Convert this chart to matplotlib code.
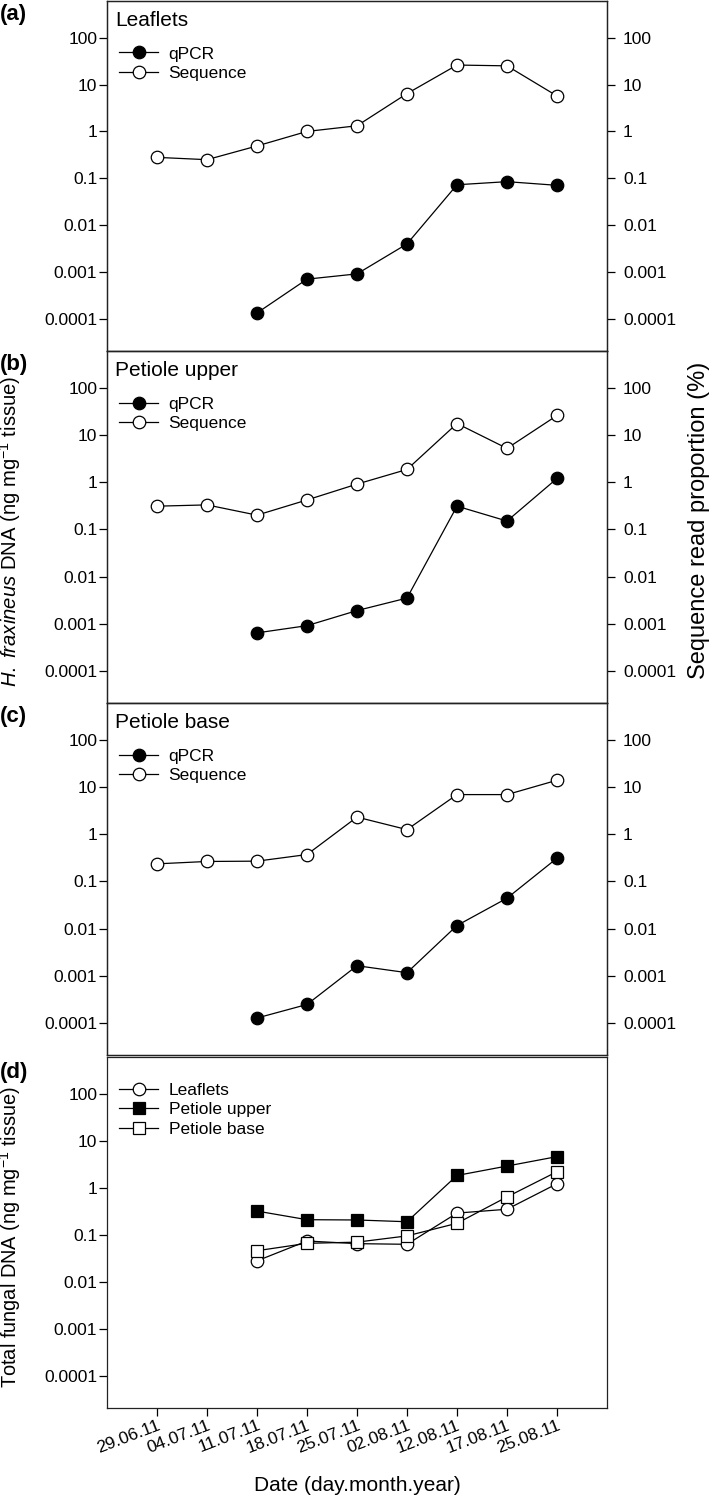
import numpy as np
import matplotlib
matplotlib.use("Agg")
import matplotlib.pyplot as plt
from matplotlib.ticker import FixedLocator, FixedFormatter, NullLocator

plt.rcParams['font.family'] = ['Liberation Sans', 'DejaVu Sans']
plt.rcParams['mathtext.fontset'] = 'custom'
plt.rcParams['mathtext.rm'] = 'Liberation Sans'
plt.rcParams['mathtext.it'] = 'Liberation Sans:italic'

dates = ["29.06.11", "04.07.11", "11.07.11", "18.07.11", "25.07.11",
         "02.08.11", "12.08.11", "17.08.11", "25.08.11"]

# panel (a) leaflets
leaf_seq = [0.28, 0.25, 0.49, 1.0, 1.32, 6.4, 26, 25, 5.7]
leaf_qpcr = [np.nan, np.nan, 1.35e-4, 7.1e-4, 9.2e-4, 4.0e-3, 0.073, 0.085, 0.071]
# panel (b) petiole upper
pu_seq = [0.31, 0.33, 0.20, 0.42, 0.91, 1.86, 17.5, 5.2, 25.9]
pu_qpcr = [np.nan, np.nan, 6.4e-4, 9.1e-4, 1.9e-3, 3.5e-3, 0.31, 0.15, 1.2]
# panel (c) petiole base
pb_seq = [0.235, 0.264, 0.268, 0.37, 2.3, 1.25, 6.9, 6.9, 13.9]
pb_qpcr = [np.nan, np.nan, 1.27e-4, 2.46e-4, 1.63e-3, 1.16e-3, 0.0116, 0.044, 0.31]
# panel (d) total fungal DNA
tot_leaf = [np.nan, np.nan, 0.028, 0.074, 0.065, 0.063, 0.29, 0.35, 1.22]
tot_pu = [np.nan, np.nan, 0.32, 0.21, 0.207, 0.19, 1.83, 2.9, 4.6]
tot_pb = [np.nan, np.nan, 0.046, 0.066, 0.07, 0.095, 0.176, 0.64, 2.2]

ytick_vals = [1e-4, 1e-3, 1e-2, 0.1, 1, 10, 100]
ytick_labs = ["0.0001", "0.001", "0.01", "0.1", "1", "10", "100"]
ylim = (10 ** -4.68, 10 ** 2.78)
x = np.arange(len(dates))

W, H = 709, 1496
fig = plt.figure(figsize=(W / 100, H / 100), dpi=100)

# (top px, bottom px) of each panel
rows = [(1, 351), (351, 703), (703, 1055), (1057, 1408)]
left, right = 107, 607
FS_TICK = 12.5

def setup_y(ax):
    ax.set_yscale('log')
    ax.set_ylim(*ylim)
    ax.yaxis.set_major_locator(FixedLocator(ytick_vals))
    ax.yaxis.set_major_formatter(FixedFormatter(ytick_labs))
    ax.yaxis.set_minor_locator(NullLocator())

def style(ax, pad=2.5):
    for s in ax.spines.values():
        s.set_linewidth(0.9)
        s.set_color('#222222')
    ax.tick_params(direction='out', length=5.5, width=0.9, labelsize=FS_TICK, pad=pad)

axes = []
for (t, b) in rows:
    ax = fig.add_axes([left / W, 1 - b / H, (right - left) / W, (b - t) / H])
    ax.set_xlim(-1, 9)
    setup_y(ax)
    style(ax, pad=1.5)
    axes.append(ax)

mk = dict(color='black', lw=0.9, markersize=9, markeredgewidth=0.9, markeredgecolor='black')
leg_kw = dict(loc='upper left', frameon=False, fontsize=FS_TICK, handlelength=2.25,
              labelspacing=0.25, handletextpad=0.6, borderpad=0.2)

panels = [("(a)", "Leaflets", leaf_qpcr, leaf_seq),
          ("(b)", "Petiole upper", pu_qpcr, pu_seq),
          ("(c)", "Petiole base", pb_qpcr, pb_seq)]

for ax, (tag, name, q, s) in zip(axes[:3], panels):
    ax.plot(x, q, marker='o', markerfacecolor='black', label='qPCR', **mk)
    ax.plot(x, s, marker='o', markerfacecolor='white', label='Sequence', **mk)
    ax.set_xticks([])
    ax.text(0.016, 0.945, name, transform=ax.transAxes, fontsize=15, va='center', ha='left')
    ax.legend(bbox_to_anchor=(0.0, 0.905), **leg_kw)
    ax.text(-0.215, 0.962, tag, transform=ax.transAxes, fontsize=16,
            fontweight='bold', va='center', ha='left')
    ax2 = ax.twinx()
    setup_y(ax2)
    style(ax2, pad=6)

# y labels as plain rotated texts, right edge at x=23px
lab_b = fig.text(23 / W, 1 - 531 / H, r"$\it{H.\ fraxineus}$ DNA (ng mg$^{-1}$ tissue)",
                 rotation=90, fontsize=16, va='center', ha='right')
lab_d = fig.text(23 / W, 1 - 1237 / H, r"Total fungal DNA (ng mg$^{-1}$ tissue)",
                 rotation=90, fontsize=16, va='center', ha='right')
lab_r = fig.text(699 / W, 1 - 520 / H, "Sequence read proportion (%)", rotation=90,
                 fontsize=17, va='center', ha='center')

# scale the left labels to the lengths seen in the original
r = fig.canvas.get_renderer()
for t, span in ((lab_b, 311), (lab_d, 302)):
    h = t.get_window_extent(r).height
    t.set_fontsize(16 * span / h)

axd = axes[3]
axd.plot(x, tot_leaf, marker='o', markerfacecolor='white', label='Leaflets', **mk)
axd.plot(x, tot_pu, marker='s', markerfacecolor='black', label='Petiole upper', **mk)
axd.plot(x, tot_pb, marker='s', markerfacecolor='white', label='Petiole base', **mk)
axd.legend(bbox_to_anchor=(0.0, 0.962), **leg_kw)
axd.text(-0.215, 0.957, "(d)", transform=axd.transAxes, fontsize=16,
         fontweight='bold', va='center', ha='left')
axd.set_xticks(x)
axd.set_xticklabels(dates, rotation=21, ha='right', rotation_mode='anchor', fontsize=FS_TICK)
axd.set_xlabel("Date (day.month.year)", fontsize=15, labelpad=15)

fig.savefig("out.png", dpi=100)
